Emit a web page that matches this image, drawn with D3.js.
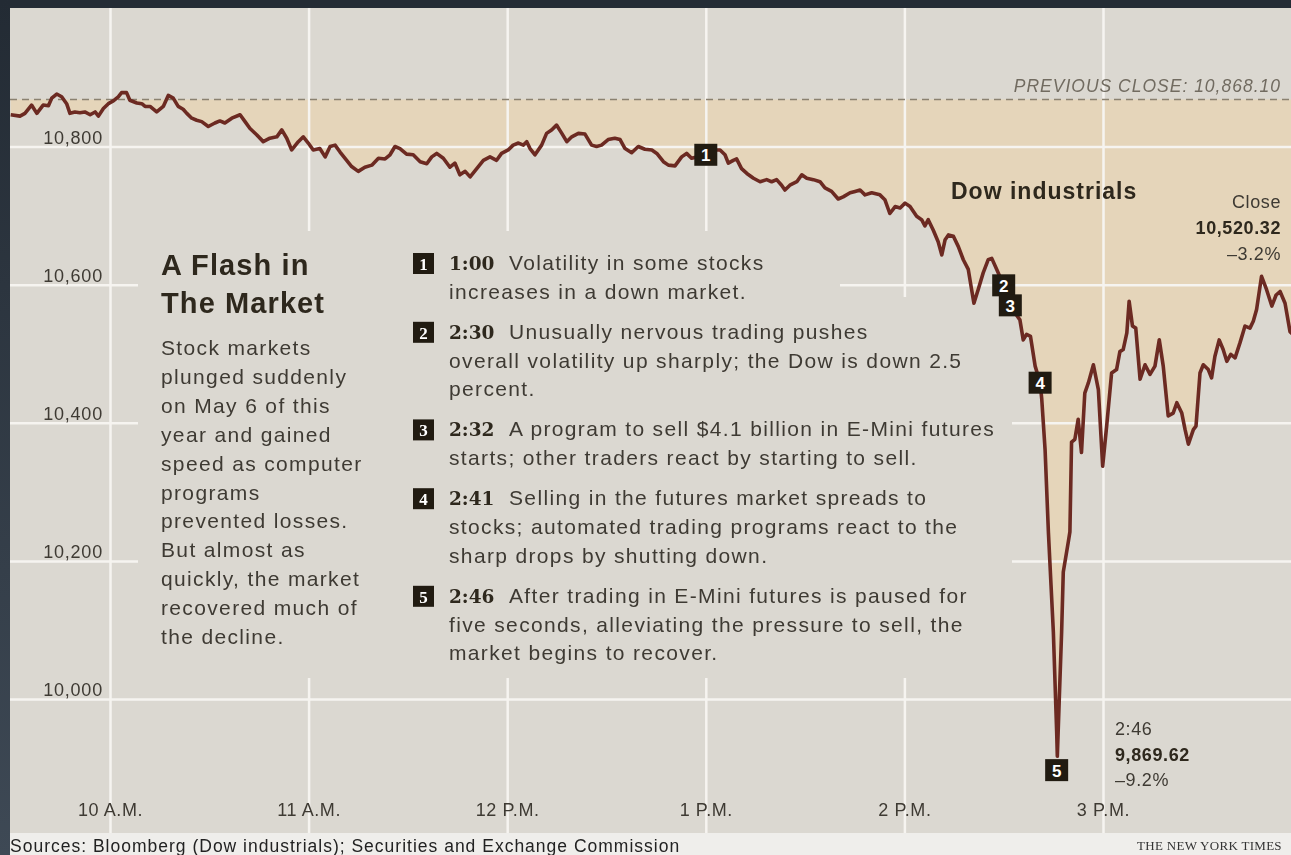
<!DOCTYPE html>
<html>
<head>
<meta charset="utf-8">
<script src="https://cdnjs.cloudflare.com/ajax/libs/d3/7.8.5/d3.min.js"></script>
<style>
body { margin: 0; background: #242c35; overflow: hidden; }
svg { display: block; }
text { font-family: "Liberation Sans", Arial, sans-serif; }
</style>
</head>
<body>
<div id="chart"></div>
<script>
// minutes after the 9:30 open, Dow level
var minutes = [0, 2.8, 4.3, 6.3, 7.9, 9.8, 11.4, 12.4, 13.9, 15.4,
	16.9, 17.9, 19.4, 20.9, 22.4, 24, 25.5, 26.5, 28, 29.5,
	31, 32.5, 33.5, 35, 36, 38.1, 39.6, 40.6, 42.1, 44.1,
	46.1, 47.6, 49.1, 50.6, 52.1, 53.2, 54.7, 56.2, 57.7, 59.7,
	61.7, 63.2, 64.7, 66.8, 69.3, 70.8, 72.3, 74.3, 76.3, 78.3,
	80.4, 81.9, 83.4, 84.9, 86.9, 88.4, 89.9, 91.4, 93.4, 95,
	96.5, 98, 99.5, 101.5, 103, 105, 107, 109.1, 111.1, 113.1,
	114.6, 116.1, 117.6, 119.6, 121.6, 123.7, 125.7, 127.2, 128.7, 130.7,
	132.7, 134.2, 135.7, 137.3, 138.8, 140.8, 142.8, 144.8, 146.8, 148.3,
	150.3, 151.8, 153.4, 154.9, 155.9, 156.9, 158.4, 160.4, 161.9, 163.4,
	164.9, 166.5, 168, 169.5, 171.5, 173.5, 175.5, 177, 178.5, 180.5,
	182.5, 184.1, 185.6, 187.6, 189.6, 191.6, 193.7, 195.2, 197.2, 198.7,
	200.7, 202.7, 204.2, 205.7, 208.2, 210, 211.9, 214.3, 215.8, 216.8,
	218.3, 219.3, 220.8, 222.4, 224.4, 226.4, 228.4, 229.9, 231.4, 232.9,
	233.9, 235.4, 237.5, 239, 240.5, 242.5, 244.5, 246, 248, 250,
	251.5, 253.6, 255.1, 256.6, 258.1, 260.1, 262.6, 264.1, 265.6, 267.2,
	268.7, 270.2, 271.7, 273.7, 275.2, 276.2, 277.2, 278.7, 280.2, 281.3,
	282.3, 283.3, 284.8, 286.3, 287.8, 289.3, 290.3, 291, 292.3, 293.8,
	295.3, 296.4, 297.9, 299.9, 302, 303.7, 304.9, 305.9, 306.9, 308.1,
	309.5, 311, 311.5, 312.5, 313.5, 315, 316, 316.2, 316.8, 317.5,
	318, 319.5, 320, 320.5, 321.5, 322.5, 323.5, 324.5, 325.6, 327.1,
	328.6, 329.9, 331.1, 332.6, 334.1, 335.1, 336.1, 337.2, 337.9, 338.9,
	339.9, 341.2, 342.7, 344.2, 345.7, 347, 348.2, 349.7, 351.2, 352.3,
	353.8, 354.8, 355.8, 357.3, 358.1, 359.3, 360.3, 361.8, 362.8, 363.8,
	365.1, 366.3, 367.4, 368.6, 369.9, 371.4, 372.9, 374.4, 375.4, 376.4,
	377.9, 379.4, 381, 382.3, 383.5, 385, 386.5, 388, 390];

var dow = [10846, 10844, 10848, 10860, 10848, 10860, 10859, 10870, 10876, 10872,
	10862, 10848, 10850, 10849, 10850, 10846, 10850, 10844, 10855, 10862,
	10866, 10872, 10878, 10878, 10867, 10863, 10862, 10858, 10858, 10850,
	10858, 10874, 10870, 10858, 10854, 10848, 10841, 10838, 10836, 10829,
	10834, 10837, 10834, 10841, 10846, 10836, 10826, 10817, 10807, 10812,
	10814, 10824, 10812, 10795, 10807, 10814, 10805, 10795, 10797, 10785,
	10800, 10802, 10792, 10780, 10771, 10764, 10770, 10773, 10783, 10782,
	10788, 10800, 10797, 10789, 10788, 10778, 10775, 10785, 10790, 10783,
	10770, 10776, 10759, 10764, 10756, 10768, 10780, 10785, 10780, 10790,
	10795, 10802, 10805, 10802, 10807, 10797, 10788, 10802, 10819, 10824,
	10831, 10819, 10807, 10814, 10819, 10818, 10802, 10800, 10802, 10810,
	10812, 10810, 10797, 10791, 10800, 10796, 10795, 10790, 10778, 10773,
	10772, 10785, 10790, 10783, 10786, 10788, 10795, 10795, 10788, 10776,
	10780, 10782, 10768, 10761, 10754, 10749, 10752, 10749, 10752, 10744,
	10737, 10744, 10749, 10759, 10754, 10752, 10749, 10740, 10735, 10724,
	10727, 10733, 10735, 10737, 10730, 10733, 10730, 10723, 10703, 10713,
	10711, 10718, 10713, 10699, 10694, 10685, 10694, 10679, 10662, 10643,
	10665, 10672, 10670, 10655, 10636, 10622, 10593, 10573, 10593, 10617,
	10636, 10638, 10622, 10600, 10571, 10557, 10549, 10520, 10528, 10525,
	10482, 10458, 10434, 10361, 10242, 10097, 9953, 9917, 10001, 10097,
	10184, 10227, 10242, 10372, 10376, 10405, 10357, 10443, 10458, 10484,
	10448, 10337, 10395, 10472, 10477, 10503, 10506, 10530, 10576, 10540,
	10537, 10463, 10484, 10470, 10482, 10520, 10482, 10410, 10414, 10429,
	10414, 10390, 10369, 10390, 10395, 10472, 10484, 10477, 10465, 10496,
	10520, 10506, 10489, 10499, 10494, 10516, 10540, 10537, 10547, 10564,
	10612, 10593, 10569, 10585, 10590, 10573, 10532, 10525, 10520];

var prevClose = 10868.10;

var levelTicks = [10000, 10200, 10400, 10600, 10800];
var hourTicks = [30, 90, 150, 210, 270, 330];
var hourLabels = ["10 A.M.", "11 A.M.", "12 P.M.", "1 P.M.", "2 P.M.", "3 P.M."];

var eventMinutes = [210, 300, 302, 311, 316];
var eventLevels = [10788, 10599, 10570, 10458, 9897];
var eventTimes = ["1:00", "2:30", "2:32", "2:41", "2:46"];
var eventNotes = [
	["Volatility in some stocks", "increases in a down market."],
	["Unusually nervous trading pushes", "overall volatility up sharply; the Dow is down 2.5", "percent."],
	["A program to sell $4.1 billion in E-Mini futures", "starts; other traders react by starting to sell."],
	["Selling in the futures market spreads to", "stocks; automated trading programs react to the", "sharp drops by shutting down."],
	["After trading in E-Mini futures is paused for", "five seconds, alleviating the pressure to sell, the", "market begins to recover."]
];

var titleLines = ["A Flash in", "The Market"];
var introLines = ["Stock markets", "plunged suddenly", "on May 6 of this", "year and gained",
	"speed as computer", "programs", "prevented losses.", "But almost as",
	"quickly, the market", "recovered much of", "the decline."];

var closeLines = ["Close", "10,520.32", "\u20133.2%"];
var lowLines = ["2:46", "9,869.62", "\u20139.2%"];

var W = 1291, H = 855;
var panel = { left: 10, top: 8, right: 1291, bottom: 833 };

var x = d3.scaleLinear().domain([0, 390]).range([10.7, 1301.6]);
var y = d3.scaleLinear().domain([10000, 10800]).range([699, 146.5]);

var ink = "#2e281d", grey = "#3e3a33";

var svg = d3.select("#chart")
  .append("svg")
    .attr("width", W)
    .attr("height", H);

var defs = svg.append("defs");

var grad = defs.append("linearGradient")
    .attr("id", "edge")
    .attr("x1", 0).attr("y1", 0).attr("x2", 0).attr("y2", 1);
grad.append("stop").attr("offset", 0).attr("stop-color", "#232b34");
grad.append("stop").attr("offset", 1).attr("stop-color", "#3e4955");

// gridlines stop around the two text blocks
var mask = defs.append("mask").attr("id", "gridMask");
mask.append("rect").attr("width", W).attr("height", H).attr("fill", "white");
mask.append("rect")
    .attr("x", 138).attr("y", 231)
    .attr("width", 702).attr("height", 447)
    .attr("fill", "black");
mask.append("rect")
    .attr("x", 840).attr("y", 297)
    .attr("width", 172).attr("height", 381)
    .attr("fill", "black");

svg.append("rect")
    .attr("width", 10)
    .attr("height", H)
    .attr("fill", "url(#edge)");

svg.append("rect")
    .attr("x", panel.left)
    .attr("y", panel.top)
    .attr("width", panel.right - panel.left)
    .attr("height", panel.bottom - panel.top)
    .attr("fill", "#dbd8d1");

svg.append("rect")
    .attr("x", panel.left)
    .attr("y", panel.bottom)
    .attr("width", panel.right - panel.left)
    .attr("height", H - panel.bottom)
    .attr("fill", "#efeeeb");

var data = d3.zip(minutes, dow).map(function(d) {
	return { m: d[0], v: d[1] };
});

var area = d3.area()
    .x(function(d) { return x(d.m); })
    .y0(y(prevClose))
    .y1(function(d) { return y(Math.min(d.v, prevClose)); });

svg.append("path")
    .datum(data)
    .attr("d", area)
    .attr("fill", "#e5d5ba");

var grid = svg.append("g")
    .attr("mask", "url(#gridMask)");

grid.append("g")
    .attr("transform", "translate(" + panel.left + ",0)")
    .call(d3.axisLeft(y)
      .tickValues(levelTicks)
      .tickSize(-(panel.right - panel.left))
      .tickFormat(""));

grid.append("g")
    .attr("transform", "translate(0," + panel.top + ")")
    .call(d3.axisTop(x)
      .tickValues(hourTicks)
      .tickSize(-(panel.bottom - panel.top))
      .tickFormat(""));

grid.selectAll(".domain").remove();
grid.selectAll(".tick line")
    .attr("stroke", "#f6f4f0")
    .attr("stroke-width", 2.5);

svg.append("line")
    .attr("x1", panel.left)
    .attr("x2", panel.right)
    .attr("y1", y(prevClose))
    .attr("y2", y(prevClose))
    .attr("stroke", "#8a8170")
    .attr("stroke-width", 1.5)
    .attr("stroke-dasharray", "7,5");

var line = d3.line()
    .x(function(d) { return x(d.m); })
    .y(function(d) { return y(d.v); });

svg.append("path")
    .datum(data)
    .attr("d", line)
    .attr("fill", "none")
    .attr("stroke", "#6c2a22")
    .attr("stroke-width", 3.6)
    .attr("stroke-linejoin", "round");

// axis labels
var yAxis = svg.append("g")
    .attr("transform", "translate(103,-9)")
    .call(d3.axisLeft(y)
      .tickValues(levelTicks)
      .tickSize(0)
      .tickPadding(0)
      .tickFormat(d3.format(",")));

var xAxis = svg.append("g")
    .attr("transform", "translate(0,803)")
    .call(d3.axisBottom(x)
      .tickValues(hourTicks)
      .tickSize(0)
      .tickPadding(0)
      .tickFormat(function(d, i) { return hourLabels[i]; }));

svg.selectAll(".domain").remove();
yAxis.selectAll("text")
    .attr("dy", "0.32em")
    .style("font-size", "18px")
    .style("letter-spacing", "0.8px")
    .attr("fill", grey);
xAxis.selectAll("text")
    .attr("dy", "0.71em")
    .style("font-size", "18px")
    .style("letter-spacing", "0.6px")
    .attr("fill", grey);

svg.append("text")
    .attr("x", 1281)
    .attr("y", 92)
    .attr("text-anchor", "end")
    .style("font-size", "17.5px")
    .style("font-style", "italic")
    .style("letter-spacing", "1px")
    .attr("fill", "#716b60")
    .text("PREVIOUS CLOSE: " + d3.format(",.2f")(prevClose));

svg.append("text")
    .attr("x", 951)
    .attr("y", 199)
    .style("font-size", "23px")
    .style("font-weight", "bold")
    .style("letter-spacing", "1px")
    .attr("fill", ink)
    .text("Dow industrials");

svg.selectAll(".closeNote")
    .data(closeLines)
  .enter().append("text")
    .attr("x", 1281)
    .attr("y", function(d, i) { return 208 + i * 26; })
    .attr("text-anchor", "end")
    .style("font-size", "18px")
    .style("font-weight", function(d, i) { return i == 1 ? "bold" : "normal"; })
    .style("letter-spacing", "0.6px")
    .attr("fill", function(d, i) { return i == 1 ? ink : grey; })
    .text(function(d) { return d; });

svg.selectAll(".lowNote")
    .data(lowLines)
  .enter().append("text")
    .attr("x", 1115)
    .attr("y", function(d, i) { return 735 + i * 25.5; })
    .style("font-size", "18px")
    .style("font-weight", function(d, i) { return i == 1 ? "bold" : "normal"; })
    .style("letter-spacing", "0.6px")
    .attr("fill", function(d, i) { return i == 1 ? ink : grey; })
    .text(function(d) { return d; });

// numbered markers on the line
var marks = svg.selectAll(".mark")
    .data(eventMinutes)
  .enter().append("g")
    .attr("transform", function(d, i) {
		return "translate(" + x(d) + "," + y(eventLevels[i]) + ")";
    });

marks.append("rect")
    .attr("x", -11.5)
    .attr("y", -11)
    .attr("width", 23)
    .attr("height", 22)
    .attr("fill", "#211b11");

marks.append("text")
    .attr("y", 6.5)
    .attr("text-anchor", "middle")
    .style("font-size", "17px")
    .style("font-weight", "bold")
    .attr("fill", "white")
    .text(function(d, i) { return i + 1; });

// headline and intro
svg.selectAll(".title")
    .data(titleLines)
  .enter().append("text")
    .attr("x", 161)
    .attr("y", function(d, i) { return 275 + i * 38; })
    .style("font-size", "29px")
    .style("font-weight", "bold")
    .style("letter-spacing", "1.1px")
    .attr("fill", ink)
    .text(function(d) { return d; });

svg.selectAll(".intro")
    .data(introLines)
  .enter().append("text")
    .attr("x", 161)
    .attr("y", function(d, i) { return 355 + i * 28.9; })
    .style("font-size", "21px")
    .style("letter-spacing", "1.35px")
    .attr("fill", grey)
    .text(function(d) { return d; });

// event list
var lineH = 28.8, itemGap = 40;
var rowY = 270;

eventNotes.forEach(function(lines, i) {
	var g = svg.append("g")
	    .attr("transform", "translate(0," + rowY + ")");

	g.append("rect")
	    .attr("x", 413)
	    .attr("y", -17)
	    .attr("width", 21)
	    .attr("height", 21)
	    .attr("fill", "#211b11");

	g.append("text")
	    .attr("x", 423.5)
	    .attr("y", 0)
	    .attr("text-anchor", "middle")
	    .style("font-family", "'Liberation Serif', 'DejaVu Serif', serif")
	    .style("font-size", "17px")
	    .style("font-weight", "bold")
	    .attr("fill", "white")
	    .text(i + 1);

	g.append("text")
	    .attr("x", 449)
	    .attr("y", 0)
	    .style("font-family", "'DejaVu Serif', 'Liberation Serif', serif")
	    .style("font-size", "18.5px")
	    .style("font-weight", "bold")
	    .attr("fill", ink)
	    .text(eventTimes[i]);

	g.selectAll(".note")
	    .data(lines)
	  .enter().append("text")
	    .attr("x", function(d, j) { return j == 0 ? 509 : 449; })
	    .attr("y", function(d, j) { return j * lineH; })
	    .style("font-size", "21px")
	    .style("letter-spacing", "1.35px")
	    .attr("fill", grey)
	    .text(function(d) { return d; });

	rowY += (lines.length - 1) * lineH + itemGap;
});

svg.append("text")
    .attr("x", 10)
    .attr("y", 852)
    .style("font-size", "17.5px")
    .style("letter-spacing", "1px")
    .attr("fill", "#222")
    .text("Sources: Bloomberg (Dow industrials); Securities and Exchange Commission");

svg.append("text")
    .attr("x", 1137)
    .attr("y", 850)
    .style("font-family", "'Liberation Serif', 'Times New Roman', serif")
    .style("font-size", "13px")
    .style("letter-spacing", "0.3px")
    .attr("fill", "#333")
    .text("THE NEW YORK TIMES");
</script>
</body>
</html>
